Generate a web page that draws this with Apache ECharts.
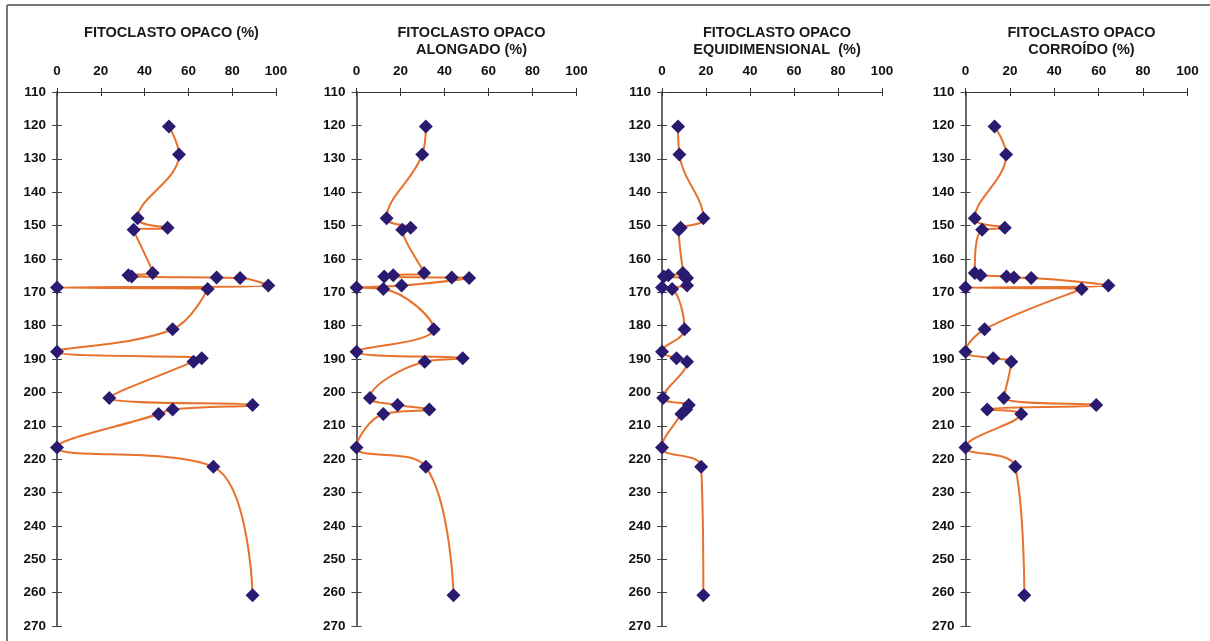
<!DOCTYPE html>
<html>
<head>
<meta charset="utf-8">
<script src="https://cdn.jsdelivr.net/npm/echarts@6/dist/echarts.min.js"></script>
<style>html,body{margin:0;padding:0;background:#fff}#c{width:1210px;height:641px}</style>
</head>
<body>
<div id="c"></div>
<script>
// Depth (y) values of the samples
var depth = [120.3, 128.7, 147.8, 150.7, 151.3, 164.2, 164.9, 165.3, 165.6, 165.7, 168.0, 168.6, 169.0, 181.1, 187.8, 189.8, 190.8, 201.7, 203.8, 205.1, 206.5, 216.5, 222.3, 260.8];
// Panel values (%)
var opaco = [51.1, 55.7, 36.8, 50.5, 35.0, 43.7, 32.6, 34.1, 72.9, 83.6, 96.5, 0, 68.8, 52.8, 0, 66.1, 62.3, 23.9, 89.3, 52.8, 46.4, 0, 71.4, 89.3];
var alongado = [31.5, 29.9, 13.7, 24.6, 20.8, 30.7, 16.7, 12.6, 43.3, 51.2, 20.5, 0, 12.2, 35.1, 0, 48.3, 31.0, 6.1, 18.7, 33.1, 12.2, 0, 31.5, 44.1];
var equidim = [7.3, 7.9, 18.8, 8.5, 7.6, 9.5, 2.9, 0.8, 10.5, 11.4, 11.4, 0, 4.6, 10.2, 0, 6.6, 11.4, 0.5, 12.2, 11.0, 8.8, 0, 17.8, 18.8];
var corroido = [13.1, 18.3, 4.2, 17.7, 7.5, 4.2, 6.8, 18.5, 21.8, 29.6, 64.4, 0, 52.3, 8.6, 0, 12.5, 20.6, 17.3, 58.9, 9.8, 25.1, 0, 22.4, 26.5];
var titles = ['FITOCLASTO OPACO (%)', 'FITOCLASTO OPACO\nALONGADO (%)', 'FITOCLASTO OPACO\nEQUIDIMENSIONAL  (%)', 'FITOCLASTO OPACO\nCORROÍDO (%)'];
var xTicks = [0, 100, 20]; // min, max, step
var yTicks = [110, 270, 10]; // min, max, step

var panels = [opaco, alongado, equidim, corroido];
var lefts = [57, 356.5, 662, 965.5];
var widths = [219, 220, 220, 222];
var gridTop = 92, gridHeight = 534;
var font = 'Liberation Sans, Arial, sans-serif';

var chart = echarts.init(document.getElementById('c'), null, {renderer: 'canvas'});
var grid = [], xa = [], ya = [], series = [], title = [];
panels.forEach(function (vals, i) {
  grid.push({left: lefts[i], top: gridTop, width: widths[i], height: gridHeight});
  // main axes (ticks outside)
  xa.push({
    type: 'value', gridIndex: i, position: 'top', min: xTicks[0], max: xTicks[1], interval: xTicks[2],
    axisLine: {show: true, onZero: false, lineStyle: {color: '#333', width: 1}},
    axisTick: {show: true, length: 4, lineStyle: {color: '#333'}},
    axisLabel: {color: '#111', fontWeight: 'bold', fontSize: 13.5, fontFamily: font, margin: 14},
    splitLine: {show: false}
  });
  // twin axis for the inner half of crossing ticks
  xa.push({
    type: 'value', gridIndex: i, position: 'top', min: xTicks[0], max: xTicks[1], interval: xTicks[2],
    axisLine: {show: false}, axisLabel: {show: false}, splitLine: {show: false},
    axisTick: {show: true, inside: true, length: 4, lineStyle: {color: '#333'}}
  });
  ya.push({
    type: 'value', gridIndex: i, position: 'left', inverse: true, min: yTicks[0], max: yTicks[1], interval: yTicks[2],
    axisLine: {show: true, onZero: false, lineStyle: {color: '#666', width: 2}},
    axisTick: {show: true, length: 5, lineStyle: {color: '#444'}},
    axisLabel: {color: '#111', fontWeight: 'bold', fontSize: 13.5, fontFamily: font, margin: 11},
    splitLine: {show: false}
  });
  ya.push({
    type: 'value', gridIndex: i, position: 'left', inverse: true, min: yTicks[0], max: yTicks[1], interval: yTicks[2],
    axisLine: {show: false}, axisLabel: {show: false}, splitLine: {show: false},
    axisTick: {show: true, inside: true, length: 5, lineStyle: {color: '#444'}}
  });
  series.push({
    type: 'line', xAxisIndex: i * 2, yAxisIndex: i * 2,
    data: vals.map(function (v, k) { return [v, depth[k]]; }),
    smooth: 0.4,
    symbol: 'diamond', symbolSize: 14,
    lineStyle: {color: '#e8712c', width: 2},
    itemStyle: {color: '#2b1b70', borderWidth: 0},
    z: 3
  });
  var cx = lefts[i] + widths[i] / 2;
  title.push({
    text: titles[i], left: cx, top: 19, textAlign: 'center',
    textStyle: {fontFamily: font, fontWeight: 'bold', fontSize: 14.5, color: '#1a1a1a', lineHeight: 17, align: 'center'}
  });
});

chart.setOption({
  animation: false,
  backgroundColor: '#fff',
  title: title,
  grid: grid,
  xAxis: xa,
  yAxis: ya,
  series: series,
  graphic: [
    {type: 'line', shape: {x1: 7, y1: 5, x2: 1210, y2: 5}, style: {stroke: '#777', lineWidth: 2}},
    {type: 'line', shape: {x1: 7, y1: 5, x2: 7, y2: 641}, style: {stroke: '#777', lineWidth: 2}}
  ]
});
</script>
</body>
</html>
